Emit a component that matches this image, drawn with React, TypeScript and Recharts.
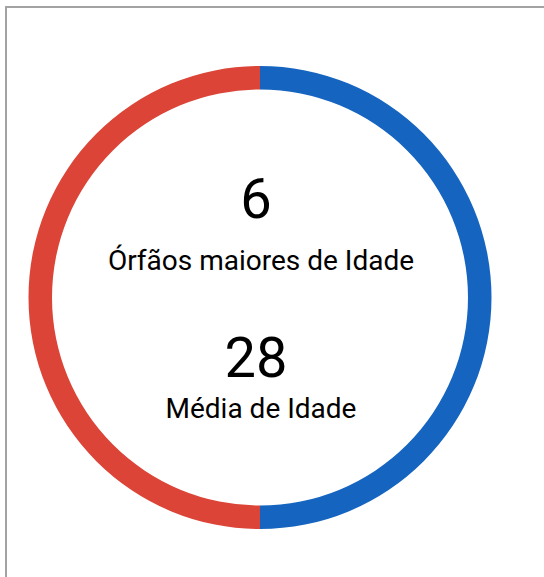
import { PieChart, Pie, Cell, Label } from "recharts";

const sliceNames = ["Maiores", "Menores"];
const sliceValues = [50, 50];
const sliceColors = ["#1565C0", "#DB4437"];

const centerValues = ["6", "28"];
const centerLabels = ["Órfãos maiores de Idade", "Média de Idade"];

const data = sliceNames.map((name, i) => ({ name, value: sliceValues[i] }));

function CenterText(props: any) {
  const vb = props.viewBox || {};
  const cx = vb.cx ?? 260;
  const cy = vb.cy ?? 297;
  const font = "Roboto, 'Noto Sans', sans-serif";
  return (
    <g>
      <text x={cx - 4} y={cy - 79} textAnchor="middle" fontFamily={font} fontSize={56} fill="#000">
        {centerValues[0]}
      </text>
      <text x={cx + 1} y={cy - 27} textAnchor="middle" fontFamily={font} fontSize={28} fill="#000">
        {centerLabels[0]}
      </text>
      <text x={cx - 4} y={cy + 80} textAnchor="middle" fontFamily={font} fontSize={56} fill="#000">
        {centerValues[1]}
      </text>
      <text x={cx + 1} y={cy + 121} textAnchor="middle" fontFamily={font} fontSize={28} fill="#000">
        {centerLabels[1]}
      </text>
    </g>
  );
}

export default function App() {
  return (
    <div>
      <div
        style={{
          position: "absolute",
          left: 5,
          top: 6,
          width: 700,
          height: 700,
          border: "2px solid #a3a3a3",
        }}
      />
      <div style={{ position: "absolute", left: 0, top: 0 }}>
        <PieChart width={544} height={577} margin={{ top: 0, right: 0, bottom: 0, left: 0 }}>
          <Pie
            data={data}
            dataKey="value"
            nameKey="name"
            cx={260}
            cy={297.5}
            innerRadius={208}
            outerRadius={231.5}
            startAngle={90}
            endAngle={-270}
            stroke="none"
            isAnimationActive={false}
          >
            {data.map((d, i) => (
              <Cell key={d.name} fill={sliceColors[i]} />
            ))}
            <Label position="center" content={CenterText} />
          </Pie>
        </PieChart>
      </div>
    </div>
  );
}
